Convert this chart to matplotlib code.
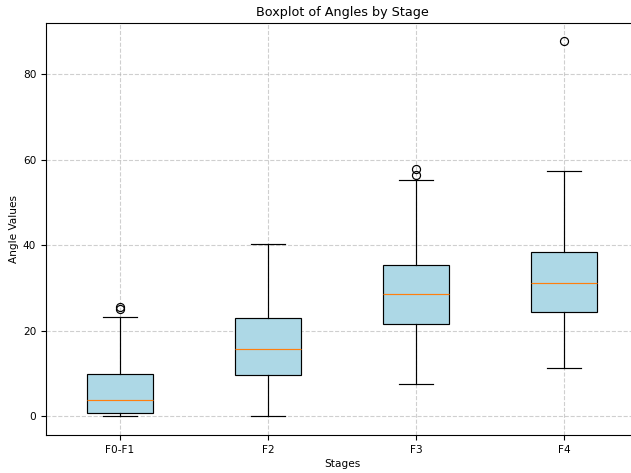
import matplotlib
matplotlib.use("Agg")
import matplotlib.pyplot as plt

# summary stats
stages = ["F0-F1", "F2", "F3", "F4"]
whislo = [0.0, 0.0, 7.5, 11.2]
q1 = [0.75, 9.7, 21.7, 24.3]
med = [3.85, 15.75, 28.7, 31.1]
q3 = [10.0, 23.05, 35.3, 38.4]
whishi = [23.3, 40.2, 55.2, 57.3]
fliers = [[25.0, 25.6], [], [56.4, 57.8], [87.7]]

stats = []
for i, name in enumerate(stages):
    stats.append({
        "label": name,
        "whislo": whislo[i],
        "q1": q1[i],
        "med": med[i],
        "q3": q3[i],
        "whishi": whishi[i],
        "fliers": fliers[i],
    })

plt.rcParams["font.size"] = 7.6
plt.rcParams["axes.titlesize"] = 9.2
plt.rcParams["axes.linewidth"] = 0.8

fig = plt.figure(figsize=(6.31, 4.73), dpi=100)
ax = fig.add_axes([0.0729, 0.0803, 0.938, 0.8717])

lw = 0.85
ax.bxp(stats, widths=0.45, patch_artist=True,
       boxprops=dict(facecolor="lightblue", linewidth=lw),
       whiskerprops=dict(linewidth=lw),
       capprops=dict(linewidth=lw),
       medianprops=dict(linewidth=lw),
       flierprops=dict(markersize=5.8, markeredgewidth=0.85))

ax.set_title("Boxplot of Angles by Stage", pad=4.5)
ax.set_xlabel("Stages", labelpad=3)
ax.set_ylabel("Angle Values", labelpad=3)
ax.grid(True, linestyle="--", alpha=0.6)

fig.savefig("out.png", dpi=100)
